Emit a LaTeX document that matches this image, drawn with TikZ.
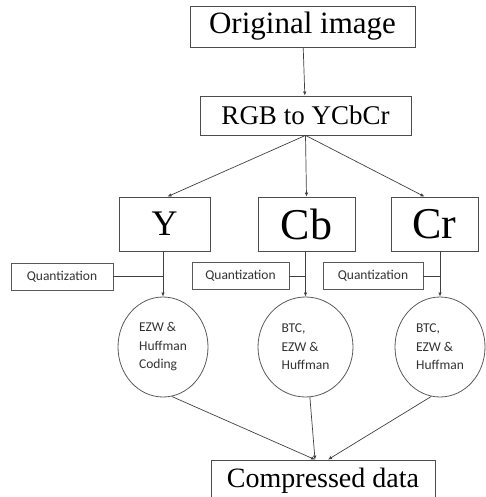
\documentclass[tikz,border=0pt]{standalone}
\usepackage{fontspec}
\setmainfont{Liberation Serif}
\newfontfamily\labelfont{Carlito}
\usetikzlibrary{arrows.meta, shapes.geometric}

\begin{document}
\begin{tikzpicture}[x=1pt, y=-1pt,
		box/.style={draw=black!70, line width=0.8pt, inner sep=0pt, text=black},
		qbox/.style={draw=black!65, line width=0.7pt, inner sep=0pt, minimum width=100pt, minimum height=27pt,
			font=\labelfont\fontsize{13.5}{16}\selectfont, text=black!80},
		coder/.style={draw=black!65, line width=0.8pt, ellipse, inner sep=0pt, minimum width=90pt, minimum height=100pt,
			align=left, font=\labelfont\fontsize{13.5}{18.5}\selectfont, text=black!80},
		arr/.style={draw=black!75, line width=0.7pt, -{Latex[length=4pt, width=3.5pt]}},
		link/.style={draw=black!75, line width=0.7pt}]
		\useasboundingbox (0, 0) rectangle (486, 497);
		% colour conversion
		\node [box, minimum width=225pt, minimum height=41pt, font=\fontsize{31}{31}\selectfont] (orig) at (302.5, 26.5) {Original image};
		\node [box, minimum width=211pt, minimum height=39pt, font=\fontsize{27}{27}\selectfont] (rgb) at (305.5, 115.5) {RGB to YCbCr};
		\node [box, minimum width=91pt, minimum height=54pt, font=\fontsize{36}{36}\selectfont] (y) at (164.5, 224) {Y};
		\node [box, minimum width=97pt, minimum height=54pt, font=\fontsize{44}{44}\selectfont] (cb) at (306.5, 224) {Cb};
		\node [box, minimum width=87pt, minimum height=54pt, font=\fontsize{44}{44}\selectfont] (cr) at (434.5, 224) {Cr};
		% quantization and coding per channel
		\node [qbox, minimum width=102pt] (q1) at (62, 276.5) {Quantization};
		\node [qbox, minimum width=97pt] (q2) at (240.5, 276) {Quantization};
		\node [qbox] (q3) at (373, 276) {Quantization};
		\node [coder] (e1) at (163, 347) {EZW \&\\Huffman\\Coding};
		\node [coder, minimum width=95pt] (e2) at (305.5, 347) {BTC,\\EZW \&\\Huffman};
		\node [coder] (e3) at (440, 347) {BTC,\\EZW \&\\Huffman};
		\node [box, minimum width=224pt, minimum height=42pt, font=\fontsize{28}{28}\selectfont] (comp) at (323, 481) {Compressed data};

		\draw [arr] (orig) -- (rgb);
		\draw [arr] (rgb.south) -- ([xshift=3pt]y.north);
		\draw [arr] (rgb.south) -- (cb.north);
		\draw [arr] (rgb.south) -- ([xshift=-10pt]cr.north);
		\draw [arr] (y.south -| e1.north) -- (e1.north);
		\draw [arr] (cb.south -| e2.north) -- (e2.north);
		\draw [arr] (cr.south -| e3.north) -- (e3.north);
		\draw [link] (q1.east) -- (q1.east -| e1.north);
		\draw [link] (q2.east) -- (q2.east -| e2.north);
		\draw [link] (q3.east) -- (q3.east -| e3.north);
		\draw [arr] (e1.-80) -- ([xshift=-8pt]comp.north);
		\draw [arr] (e2.-85) -- ([xshift=-8pt]comp.north);
		\draw [arr] (e3.-100) -- ([xshift=5pt]comp.north);
	\end{tikzpicture}
\end{document}
